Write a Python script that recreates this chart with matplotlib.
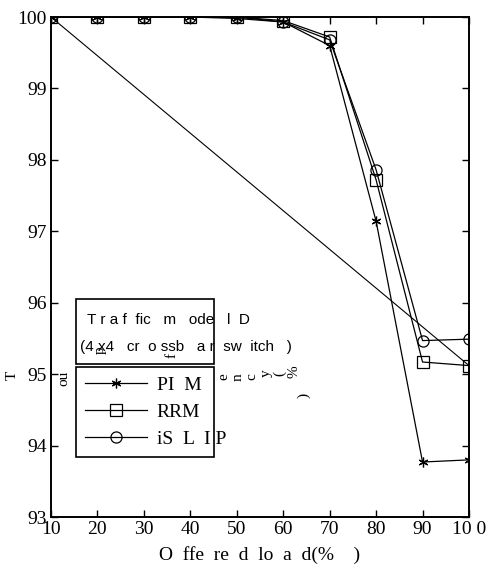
import numpy as np
import matplotlib
matplotlib.use("Agg")
import matplotlib.pyplot as plt
from matplotlib.patches import Rectangle

# offered load (%) and throughput efficiency (%)
load = [10, 20, 30, 40, 50, 60, 70, 80, 90, 100]
pim = [100, 100, 100, 100, 99.98, 99.93, 99.60, 97.14, 93.77, 93.80]
rrm = [100, 100, 100, 100, 100, 99.95, 99.72, 97.72, 95.17, 95.12]
islip = [100, 100, 100, 100, 100, 99.93, 99.68, 97.86, 95.47, 95.49]

xtick_labels = ['10', '20', '30', '40', '50', '60', '70', '80', '90', '10 0']
yticks = [93, 94, 95, 96, 97, 98, 99, 100]

plt.rcParams['font.family'] = ['Liberation Serif', 'DejaVu Serif']

fig = plt.figure(figsize=(4.94, 5.73), dpi=100)
ax = fig.add_axes([0.1032, 0.0977, 0.8462, 0.8726])

lw = 0.9
ax.plot(load, pim, color='black', lw=lw, marker=(6, 2, 0), ms=7, mew=0.9, label='PI  M')
ax.plot(load, rrm, color='black', lw=lw, marker='s', ms=8, mfc='none', mew=0.9, label='RRM')
ax.plot(load, islip, color='black', lw=lw, marker='o', ms=8, mfc='none', mew=0.9, label='iS  L  I P')
# stray segment in the original figure: closing line of the RRM curve
ax.plot([load[0], load[-1]], [rrm[0], rrm[-1]], color='black', lw=0.8)

ax.set_xlim(10, 100)
ax.set_ylim(93, 100)
ax.set_xticks(load)
ax.set_xticklabels(xtick_labels)
ax.set_yticks(yticks)
ax.tick_params(direction='in', top=True, right=True, labelsize=14, length=5, width=1, pad=3)
for s in ax.spines.values():
    s.set_linewidth(1.4)

ax.set_xlabel('O  ffe  re  d  lo  a  d(%    )', fontsize=14, labelpad=6)

# legend with separate title box above it
leg = ax.legend(loc='lower left', bbox_to_anchor=(0.060, 0.12, 0.33, 0.186), mode='expand',
                fancybox=False, edgecolor='black', fontsize=14, handlelength=3.2,
                borderaxespad=0, labelspacing=0.5, handletextpad=0.5, borderpad=0.45)
leg.get_frame().set_linewidth(1.2)
leg.get_frame().set_alpha(1)
ax.add_patch(Rectangle((0.060, 0.306), 0.33, 0.13, transform=ax.transAxes, fill=False,
                       edgecolor='black', lw=1.2, zorder=6))
ax.text(0.085, 0.395, 'T r a f  fic   m   ode   l  D', transform=ax.transAxes, fontsize=11,
        family='Liberation Sans', va='center', zorder=7)
ax.text(0.070, 0.340, '(4 x4   cr  o ssb   a r  sw  itch   )', transform=ax.transAxes, fontsize=11,
        family='Liberation Sans', va='center', zorder=7)

# scattered y-axis label characters, as in the scanned original
chars = ['T', 'ou', 'p', 'f', 'e', 'n', 'c', 'y', '(', '%', ')']
cx = [12, 64, 100, 172, 224, 238, 252, 266, 280, 294, 304]
cy = [375, 378, 350, 356, 377, 377, 377, 373, 373, 372, 395]
for ch, px, py in zip(chars, cx, cy):
    fig.text(px / 494, 1 - py / 573, ch, rotation=90, fontsize=11, ha='center', va='center')

fig.savefig('out.png', dpi=100)
